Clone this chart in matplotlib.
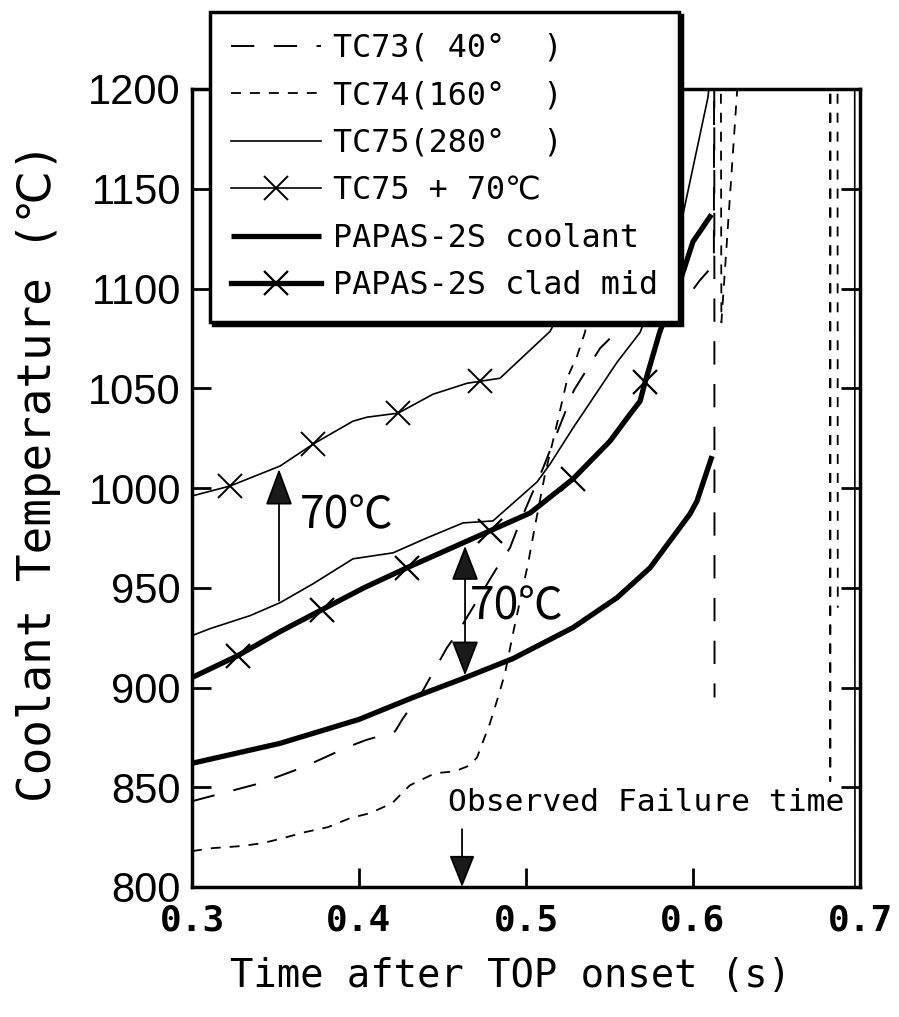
import matplotlib
matplotlib.use("Agg")
import matplotlib.pyplot as plt

# ---------------- data ----------------
# TC73 (40 deg)  long dash
t_tc73 = [0.300, 0.3407, 0.3665, 0.3928, 0.4036, 0.4216, 0.4263, 0.4383, 0.4527, 0.4587,
          0.4826, 0.4904, 0.4964, 0.5102, 0.5287, 0.5443, 0.5563, 0.562, 0.590, 0.597,
          0.604, 0.6125, 0.6127, 0.6129]
T_tc73 = [843, 852, 860, 870, 873.5, 878, 884.5, 898.5, 920, 927,
          960, 970, 983, 1010, 1049, 1070, 1080, 1087, 1090, 1096,
          1104, 1112, 1270, 895]

# TC74 (160 deg) short dash
t_tc74 = [0.300, 0.3126, 0.3293, 0.3425, 0.3545, 0.3677, 0.3814, 0.3946, 0.4066, 0.4198,
          0.4305, 0.4455, 0.4575, 0.4665, 0.4707, 0.4743, 0.4784, 0.4832, 0.4874, 0.4922,
          0.5012, 0.5054, 0.5114, 0.5174, 0.5251, 0.5305, 0.5353, 0.545, 0.555, 0.565,
          0.6165, 0.6170, 0.6265, 0.630, 0.682, 0.6822, 0.6824, 0.6865, 0.6867]
T_tc74 = [818, 819.5, 820.5, 822, 824.5, 827.5, 830, 834.5, 837, 842,
          851, 857, 858, 861, 865, 873, 882, 895, 907, 927,
          962, 981, 1007, 1028, 1056, 1066, 1078, 1120, 1180, 1280,
          1280, 1083, 1200, 1280, 1280, 853, 1280, 1280, 940]

# TC75 (280 deg) thin solid
t_tc75 = [0.300, 0.3108, 0.3347, 0.3527, 0.3725, 0.3964, 0.4204, 0.4407, 0.4623, 0.4802,
          0.5066, 0.5144, 0.5281, 0.5425, 0.5545, 0.5683, 0.5922, 0.6090, 0.620, 0.6968,
          0.6970]
T_tc75 = [926, 929.5, 936, 942.5, 952, 964.5, 967.5, 975, 982.5, 983.5,
          1003, 1012, 1030, 1048, 1063, 1078, 1130, 1196, 1290, 1290,
          780]

# TC75 + 70 C  thin solid with x markers
t_tc75p = [0.300, 0.3228, 0.3527, 0.3725, 0.3964, 0.4048, 0.4234, 0.4443, 0.4647, 0.4725,
           0.4844, 0.5144, 0.5281, 0.5425, 0.5683, 0.5922, 0.610]
T_tc75p = [996, 1001, 1011, 1022, 1033.5, 1035.5, 1037.5, 1047, 1052.5, 1053.5,
           1055, 1078.5, 1100, 1118, 1148, 1200, 1270]
mk_tc75p = [1, 3, 6, 9]

# PAPAS-2S coolant  thick solid
t_cool = [0.300, 0.3527, 0.400, 0.4323, 0.4623, 0.4922, 0.5281, 0.5545, 0.5743, 0.5982,
          0.6024, 0.6114]
T_cool = [862, 872, 884, 895, 904.5, 914.5, 930, 945, 960, 987,
          993.5, 1016]

# PAPAS-2S clad mid  thick solid with x markers
t_clad = [0.300, 0.3275, 0.3527, 0.3778, 0.4030, 0.4287, 0.4784, 0.5025, 0.5281, 0.5503,
          0.5623, 0.5683, 0.5713, 0.5802, 0.5922, 0.6000, 0.6102]
T_clad = [905, 916, 928, 939, 950, 960, 978.5, 987.5, 1004.5, 1023.5,
          1037, 1043.5, 1053, 1078.5, 1103.5, 1123.5, 1136]
mk_clad = [1, 3, 5, 6, 8, 12]

labels = ["TC73( 40°  )", "TC74(160°  )", "TC75(280°  )", "TC75 + 70℃",
          "PAPAS-2S coolant", "PAPAS-2S clad mid"]

x_ticks = [0.3, 0.4, 0.5, 0.6, 0.7]
x_ticklabels = ["0.3", "0.4", "0.5", "0.6", "0.7"]
y_ticks = [800, 850, 900, 950, 1000, 1050, 1100, 1150, 1200]

# annotation values
t_up_arrow, T_up_from, T_up_to = 0.3521, 943.5, 1009.5
t_dbl_arrow, T_dbl_lo, T_dbl_hi = 0.4635, 906, 971
t_fail, T_fail_from = 0.4617, 829

# ---------------- figure ----------------
W, H = 899, 1017
fig = plt.figure(figsize=(W / 100, H / 100), dpi=100)
ax = fig.add_axes([192 / W, 1 - 887 / H, (860 - 192) / W, (887 - 89) / H])
ax.set_xlim(0.3, 0.7)
ax.set_ylim(800, 1200)

mono = ["DejaVu Sans Mono", "DejaVu Sans"]

h73, = ax.plot(t_tc73, T_tc73, color="k", lw=1.4, linestyle=(0, (12, 10)))
h74, = ax.plot(t_tc74, T_tc74, color="k", lw=1.3, linestyle=(0, (5.5, 5)))
h75, = ax.plot(t_tc75, T_tc75, color="k", lw=1.2)
h75p, = ax.plot(t_tc75p, T_tc75p, color="k", lw=1.2, marker="x", ms=17, mew=1.4,
                markevery=mk_tc75p)
hcool, = ax.plot(t_cool, T_cool, color="k", lw=3.8, solid_capstyle="butt")
hclad, = ax.plot(t_clad, T_clad, color="k", lw=3.8, marker="x", ms=17, mew=1.6,
                 markevery=mk_clad)

# spines / ticks
for s in ax.spines.values():
    s.set_linewidth(2.5)
ax.tick_params(direction="in", length=14, width=2, top=False, right=True,
               labelright=False)
ax.set_xticks(x_ticks)
ax.set_xticklabels(x_ticklabels, family=mono, fontsize=26, fontweight="bold")
ax.set_yticks(y_ticks)
ax.set_yticklabels([str(v) for v in y_ticks], family="Liberation Sans", fontsize=30)
ax.tick_params(axis="y", pad=8)
ax.tick_params(axis="x", pad=12)

ax.set_xlabel("Time after TOP onset (s)", family=mono, fontsize=28, va="center")
ax.xaxis.set_label_coords(0.4775, -0.112)
ax.set_ylabel("Coolant Temperature (℃)", family=mono, fontsize=33, va="center")
ax.yaxis.set_label_coords(-0.2305, 0.52)

# arrows
head = dict(color="k", lw=1.3, shrinkA=0, shrinkB=0, mutation_scale=10, fc="#1a1a1a")
ax.annotate("", xy=(t_up_arrow, T_up_to), xytext=(t_up_arrow, T_up_from),
            arrowprops=dict(arrowstyle="-|>,head_length=2.3,head_width=0.85", **head))
ax.annotate("", xy=(t_dbl_arrow, T_dbl_lo), xytext=(t_dbl_arrow, T_dbl_hi),
            arrowprops=dict(arrowstyle="<|-|>,head_length=2.2,head_width=0.85", **head))
ax.annotate("", xy=(t_fail, 800), xytext=(t_fail, T_fail_from),
            arrowprops=dict(arrowstyle="-|>,head_length=2.0,head_width=0.8", **head))

cjk = ["Noto Sans CJK JP", "DejaVu Sans"]
ax.text(0.3928, 986.5, "70℃", family=cjk, fontsize=32, ha="center", va="center")
ax.text(0.4946, 940.5, "70℃", family=cjk, fontsize=32, ha="center", va="center")
ax.text(0.4533, 842.5, "Observed Failure time", family=mono, fontsize=22.6,
        ha="left", va="center")

# legend
leg = fig.legend([h73, h74, h75, h75p, hcool, hclad], labels,
                 loc="upper left", bbox_to_anchor=(210 / W, 1 - 12 / H),
                 bbox_transform=fig.transFigure, borderaxespad=0,
                 prop=dict(family=mono, size=22.9), handlelength=2.85,
                 handletextpad=0.37, labelspacing=0.52, borderpad=0.65,
                 numpoints=1, fancybox=False, framealpha=1, edgecolor="k",
                 shadow={"color": "k", "alpha": 1})
leg.get_frame().set_linewidth(2.5)

fig.savefig("out.png", dpi=100)
